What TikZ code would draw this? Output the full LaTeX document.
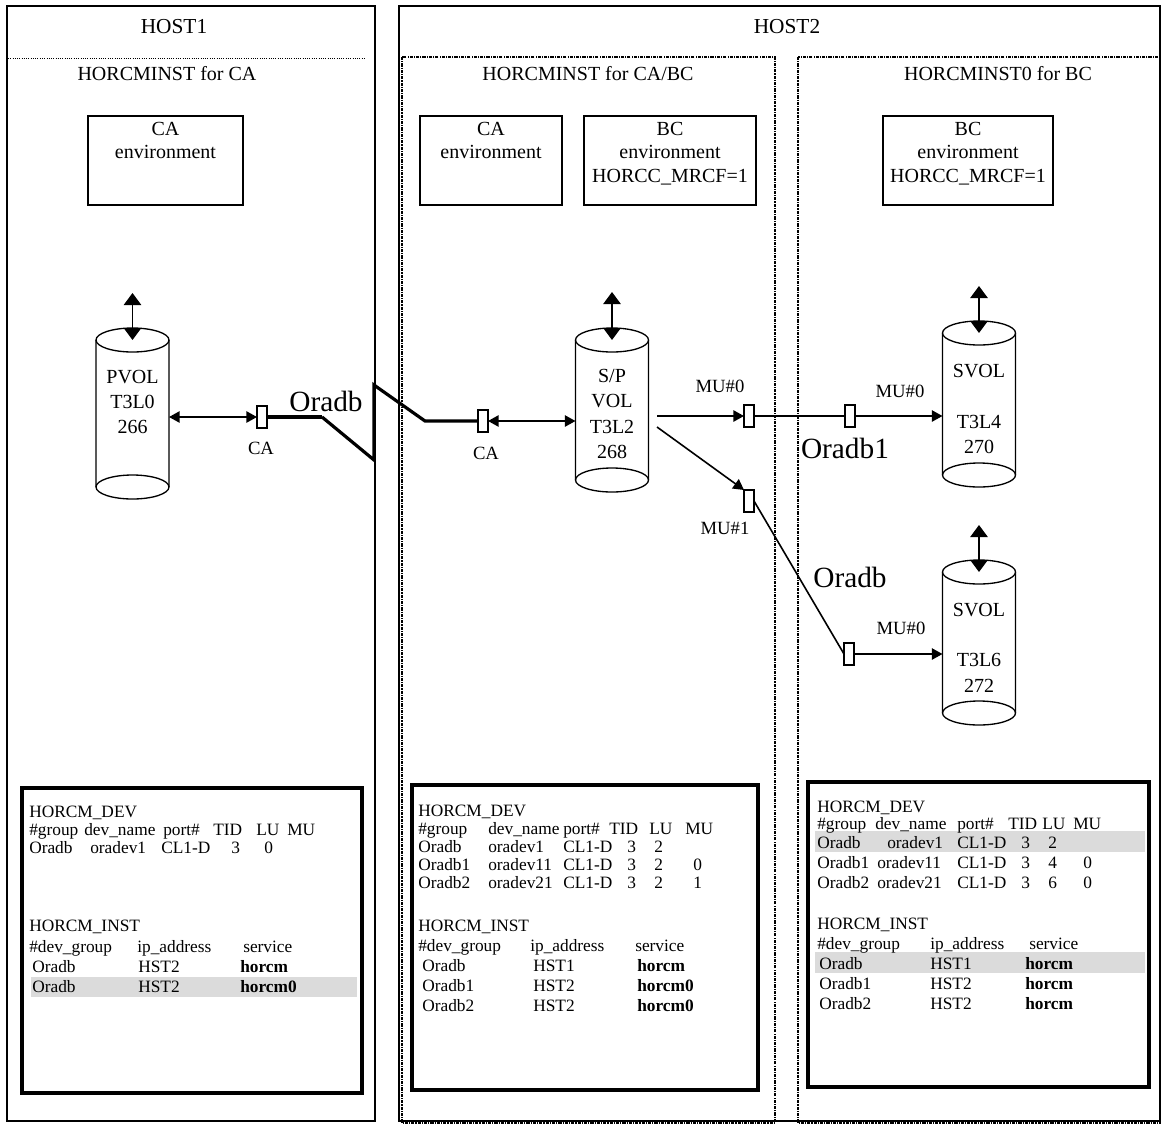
\documentclass[tikz,border=0pt]{standalone}
\usepackage{fontspec}
\setmainfont{Liberation Serif}
\usetikzlibrary{arrows.meta}
\newcommand\drum[6]{%
  \draw[cylline, fill=white] (#2,#3) ++(-36.5,0) -- ++(0,{#4-#3}) arc[start angle=180, end angle=360, x radius=27.375pt, y radius=9pt] -- ++(0,{#3-#4});
  \draw[cylline, fill=white] (#2,#3) ellipse [x radius=27.375pt, y radius=9pt];
  \draw[cylline] (#2,#4) ++(-36.5,0) arc[start angle=180, end angle=0, x radius=27.375pt, y radius=9pt];
  \node[cylnode, minimum height={(#4-#3)*0.75pt}] (#1) at (#2,{(#3+#4)/2}) {};
  \node[cyltxt] (#1-txt) at (#2,#5) {#6};
}
\newcommand\tabrow[3]{\foreach \cx/\ct [count=\ci] in {#3} {\node[tbl] (#1-\ci) at (\cx,#2) {\ct};}}
\begin{document}
\begin{tikzpicture}[x=0.75pt, y=-0.75pt,
  >={Triangle[length=8pt,width=8.5pt]},
  hostline/.style={line width=1.6pt},
  dashdot/.style={line width=0.9pt, dash pattern=on 2.4pt off 0.8pt on 0.8pt off 0.8pt},
  envbox/.style={draw, line width=1.6pt, inner sep=0pt, outer sep=0pt},
  tabbox/.style={line width=3pt},
  hilite/.style={fill=black!14},
  cylline/.style={line width=1pt},
  cylnode/.style={draw=none, minimum width=54.75pt, inner sep=0pt, outer sep=0pt},
  cyltxt/.style={font=\fontsize{15}{19}\selectfont, align=center, inner sep=0pt},
  port/.style={draw, fill=white, line width=0.9pt, minimum width=7.5pt, minimum height=16.5pt, inner sep=0pt, outer sep=0pt},
  conn/.style={line width=1.2pt},
  bigtips/.style={{Triangle[length=9pt,width=13pt]}-{Triangle[length=9pt,width=13pt]}},
  title/.style={font=\fontsize{16}{19}\selectfont, inner sep=0pt},
  lbl/.style={font=\fontsize{15}{17.6}\selectfont, inner sep=0pt, align=center},
  small/.style={font=\fontsize{14}{16}\selectfont, inner sep=0pt},
  big/.style={font=\fontsize{22}{26}\selectfont, inner sep=0pt},
  tbl/.style={font=\fontsize{13}{15}\selectfont, anchor=base west, inner sep=0pt}
]
\useasboundingbox (0,0) rectangle (1166,1125);
% host containers
\draw[hostline] (7,6) rectangle (375,1121);
\draw[hostline] (399,6) rectangle (1160,1121);
\draw[densely dotted, line width=0.7pt] (8,58) -- (366,58);
\draw[dashdot] (402,57) rectangle (775,1123);
\draw[dashdot] (798,57) rectangle (1160,1123);
\node[title] (h1) at (174,27) {HOST1};
\node[title] (h2) at (787,27) {HOST2};
\node[lbl] (i1) at (167,74) {HORCMINST for CA};
\node[lbl] (i2) at (588,74) {HORCMINST for CA/BC};
\node[lbl] (i3) at (998,74) {HORCMINST0 for BC};
% environment boxes
\node[envbox, minimum width=116.25pt, minimum height=66.75pt] (env1) at (165.5,160.5) {};
\node[lbl, anchor=north] (env1t) at ([yshift=-4.5pt]env1.north) {CA\\environment};
\node[envbox, minimum width=106.5pt, minimum height=66.75pt] (env2) at (491,160.5) {};
\node[lbl, anchor=north] (env2t) at ([yshift=-4.5pt]env2.north) {CA\\environment};
\node[envbox, minimum width=129pt, minimum height=66.75pt] (env3) at (670,160.5) {};
\node[lbl, anchor=north] (env3t) at ([yshift=-4.5pt]env3.north) {BC\\environment\\HORCC\_MRCF=1};
\node[envbox, minimum width=127.5pt, minimum height=66.75pt] (env4) at (968,160.5) {};
\node[lbl, anchor=north] (env4t) at ([yshift=-4.5pt]env4.north) {BC\\environment\\HORCC\_MRCF=1};
% tables
\draw[tabbox] (22,788) rectangle (362,1093);
\draw[tabbox] (412,785) rectangle (758,1090);
\draw[tabbox] (808,782) rectangle (1149,1087);
\fill[hilite] (31,977) rectangle (357,997);
\fill[hilite] (815,831) rectangle (1145,852);
\fill[hilite] (815,952) rectangle (1145,973);
% left table
\tabrow{ta}{817}{29/HORCM\_DEV}
\tabrow{tb}{835}{29/\#group, 84/dev\_name, 163/port\#, 213/TID, 256/LU, 287/MU}
\tabrow{tc}{853}{29/Oradb, 90/oradev1, 161/CL1-D, 231/3, 264/0}
\tabrow{td}{931}{29/HORCM\_INST}
\tabrow{te}{952}{29/\#dev\_group, 137/ip\_address, 243/service}
\tabrow{tf}{972}{32/Oradb, 138/HST2, 240/\textbf{horcm}}
\tabrow{tg}{992}{32/Oradb, 138/HST2, 240/\textbf{horcm0}}
% middle table
\tabrow{ma}{816}{418/HORCM\_DEV}
\tabrow{mb}{834}{418/\#group, 488/dev\_name, 563/port\#, 609/TID, 649/LU, 685/MU}
\tabrow{mc}{852}{418/Oradb, 488/oradev1, 563/CL1-D, 627/3, 654/2}
\tabrow{md}{870}{418/Oradb1, 488/oradev11, 563/CL1-D, 627/3, 654/2, 693/0}
\tabrow{me}{888}{418/Oradb2, 488/oradev21, 563/CL1-D, 627/3, 654/2, 693/1}
\tabrow{mf}{931}{418/HORCM\_INST}
\tabrow{mg}{951}{418/\#dev\_group, 530/ip\_address, 635/service}
\tabrow{mh}{971}{422/Oradb, 533/HST1, 637/\textbf{horcm}}
\tabrow{mi}{991}{422/Oradb1, 533/HST2, 637/\textbf{horcm0}}
\tabrow{mj}{1011}{422/Oradb2, 533/HST2, 637/\textbf{horcm0}}
% right table
\tabrow{ra}{812}{817/HORCM\_DEV}
\tabrow{rb}{829}{817/\#group, 875/dev\_name, 957/port\#, 1008/TID, 1042/LU, 1073/MU}
\tabrow{rc}{848}{817/Oradb, 887/oradev1, 957/CL1-D, 1021/3, 1048/2}
\tabrow{rd}{868}{817/Oradb1, 877/oradev11, 957/CL1-D, 1021/3, 1048/4, 1083/0}
\tabrow{re}{888}{817/Oradb2, 877/oradev21, 957/CL1-D, 1021/3, 1048/6, 1083/0}
\tabrow{rf}{929}{817/HORCM\_INST}
\tabrow{rg}{949}{817/\#dev\_group, 930/ip\_address, 1029/service}
\tabrow{rh}{969}{819/Oradb, 930/HST1, 1025/\textbf{horcm}}
\tabrow{ri}{989}{819/Oradb1, 930/HST2, 1025/\textbf{horcm}}
\tabrow{rj}{1009}{819/Oradb2, 930/HST2, 1025/\textbf{horcm}}
% volumes
\drum{pvol}{132.5}{340}{487}{402}{PVOL\\T3L0\\266}
\drum{spvol}{612}{340}{480}{414}{S/P\\VOL\\T3L2\\268}
\drum{svola}{979}{333}{475}{409}{SVOL\\[19pt]T3L4\\270}
\drum{svolb}{979}{572}{713}{647.5}{SVOL\\[19pt]T3L6\\272}
\coordinate (a1) at (132.5,293);
\coordinate (a2) at (612,292);
\coordinate (a3) at (979,286);
\coordinate (a4) at (979,525);
\draw[conn, bigtips] (a1) -- (pvol.north);
\draw[conn, bigtips] (a2) -- (spvol.north);
\draw[conn, bigtips] (a3) -- (svola.north);
\draw[conn, bigtips] (a4) -- (svolb.north);
% ports
\node[port] (p1) at (262,417) {};
\node[port] (p2) at (483,421) {};
\node[port] (p3) at (749,416) {};
\node[port] (p4) at (850,416) {};
\node[port] (p5) at (749,501) {};
\node[port] (p6) at (849,654) {};
% links
\coordinate (z1) at (322,417);
\coordinate (z2) at (374,460);
\coordinate (z3) at (374,385);
\coordinate (z4) at (425,421);
\draw[line width=3.6pt] (p1.east) -- (z1);
\draw[line width=2.4pt] (z1) -- (z2) -- (z3) -- (z4) -- (p2.west);
\draw[conn,<->] (p1.west) -- (p1.west -| pvol.east);
\draw[conn,<->] (p2.east) -- (p2.east -| spvol.west);
\coordinate (s0) at (657,416);
\coordinate (s1) at (657,427);
\draw[conn,->] (s0) -- (p3.west);
\draw[conn] (p3.east) -- (p4.west);
\draw[conn,->] (p4.east) -- (p4.east -| svola.west);
\draw[conn,->] (s1) -- (p5.north west);
\draw[conn] (p5.east) -- (p6.west);
\draw[conn,->] (p6.east) -- (p6.east -| svolb.west);
% labels
\node[small] (ca1) at (261,448) {CA};
\node[small] (ca2) at (486,453) {CA};
\node[small] (mu0a) at (720,386) {MU\#0};
\node[small] (mu0b) at (900,391) {MU\#0};
\node[small] (mu1) at (725,528) {MU\#1};
\node[small] (mu0c) at (901,628) {MU\#0};
\node[big] (ob0) at (326,401) {Oradb};
\node[big] (ob1) at (845,448) {Oradb1};
\node[big] (ob2) at (850,577) {Oradb};
\end{tikzpicture}
\end{document}
